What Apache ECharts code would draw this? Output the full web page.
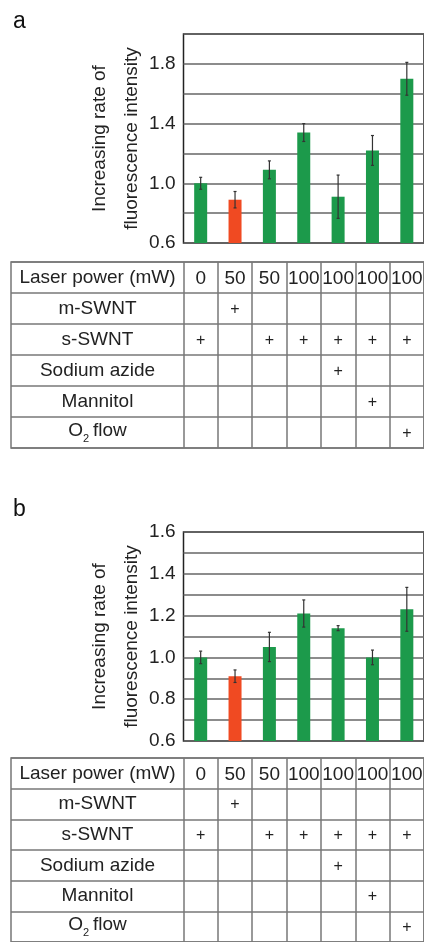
<!DOCTYPE html>
<html>
<head>
<meta charset="utf-8">
<title>Fluorescence intensity</title>
<script src="https://cdn.jsdelivr.net/npm/echarts@6/dist/echarts.min.js"></script>
<style>
  html, body { margin: 0; padding: 0; background: #fff; }
  #chart { width: 424px; height: 942px; }
</style>
</head>
<body>
<div id="chart"></div>
<script>
// laser power per column (same for both panels)
const laserPower = ['0', '50', '50', '100', '100', '100', '100']
// table rows
const rowLabels = ['Laser power (mW)', 'm-SWNT', 's-SWNT', 'Sodium azide', 'Mannitol', '{o|O}{sub|2}{o|flow}']
const mSWNT = [0, 1, 0, 0, 0, 0, 0]
const sSWNT = [1, 0, 1, 1, 1, 1, 1]
const sodiumAzide = [0, 0, 0, 0, 1, 0, 0]
const mannitol = [0, 0, 0, 0, 0, 1, 0]
const o2Flow = [0, 0, 0, 0, 0, 0, 1]

// panel a
const valuesA = [1.00, 0.89, 1.09, 1.34, 0.91, 1.22, 1.70]
const errorsA = [0.04, 0.055, 0.06, 0.06, 0.145, 0.10, 0.11]
const tickLabelsA = ['0.6', '1.0', '1.4', '1.8']
// panel b
const valuesB = [1.00, 0.91, 1.05, 1.21, 1.14, 1.00, 1.23]
const errorsB = [0.03, 0.03, 0.07, 0.065, 0.012, 0.035, 0.105]
const tickLabelsB = ['0.6', '0.8', '1.0', '1.2', '1.4', '1.6']

const GREEN = '#1c9a4b'
const RED = '#f04a22'
const FONT = 'Liberation Sans, Arial, sans-serif'
const TXT = '#222'

const chart = echarts.init(document.getElementById('chart'), null, { renderer: 'canvas' })

function barColor(i) {
  return i === 1 ? RED : GREEN
}

// [column, row, text] for every filled table cell
function tableCells() {
  const out = []
  laserPower.forEach((p, i) => out.push([i, 0, p]))
  const rows = [mSWNT, sSWNT, sodiumAzide, mannitol, o2Flow]
  rows.forEach((row, r) => {
    row.forEach((v, i) => {
      if (v) out.push([i, r + 1, '+'])
    })
  })
  return out
}

// builds grids/axes/series for one panel
function panel(idx, top, tableTop, min, max, interval, values, errors, tickLabels) {
  const g = idx * 3
  const cells = tableCells()
  const grids = [
    { left: 183.5, top: top, width: 247, height: 209, show: true, borderColor: '#222', borderWidth: 1.5 },
    { left: 183.5, top: tableTop, width: 247, height: 186 },
    { left: 11, top: tableTop, width: 419, height: 186, show: true, borderColor: '#777', borderWidth: 1.5 }
  ]
  const xAxes = [
    { gridIndex: g, type: 'category', data: laserPower, axisLine: { show: false }, axisTick: { show: false }, axisLabel: { show: false } },
    {
      gridIndex: g + 1, type: 'category', data: laserPower,
      axisLine: { show: false }, axisTick: { show: false }, axisLabel: { show: false },
      splitLine: { show: true, lineStyle: { color: '#777', width: 1.5 } }
    },
    { gridIndex: g + 2, type: 'value', show: false }
  ]
  const yAxes = [
    {
      gridIndex: g, type: 'value', min: min, max: max, interval: interval,
      name: 'Increasing rate of\nfluorescence intensity',
      nameLocation: 'middle', nameGap: 36, nameMoveOverlap: false,
      nameTextStyle: { fontFamily: FONT, fontSize: 19, color: TXT, lineHeight: 32 },
      axisLine: { show: false }, axisTick: { show: false },
      axisLabel: {
        fontFamily: FONT, fontSize: 19, color: TXT, margin: 8,
        formatter: v => {
          const s = v.toFixed(1)
          return tickLabels.indexOf(s) >= 0 ? s : ''
        }
      },
      splitLine: { show: true, lineStyle: { color: '#666', width: 1.5 } }
    },
    {
      gridIndex: g + 1, type: 'category', data: rowLabels, inverse: true,
      axisLine: { show: false }, axisTick: { show: false },
      axisLabel: {
        fontFamily: FONT, fontSize: 19, color: TXT, align: 'center', margin: 86,
        rich: {
          o: { fontFamily: FONT, fontSize: 19, color: TXT, verticalAlign: 'top' },
          sub: { fontFamily: FONT, fontSize: 11, color: TXT, verticalAlign: 'top', padding: [12, 4, 0, 0] }
        }
      }
    },
    {
      gridIndex: g + 2, type: 'category', data: rowLabels, inverse: true,
      axisLine: { show: false }, axisTick: { show: false }, axisLabel: { show: false },
      splitLine: { show: true, lineStyle: { color: '#777', width: 1.5 } }
    }
  ]
  const series = [
    {
      type: 'bar', xAxisIndex: g, yAxisIndex: g, barWidth: 13,
      data: values.map((v, i) => ({ value: v, itemStyle: { color: barColor(i) } }))
    },
    {
      // error bars
      type: 'custom', xAxisIndex: g, yAxisIndex: g,
      data: values.map((v, i) => [i, v, errors[i]]),
      renderItem: (params, api) => {
        const hi = api.coord([api.value(0), api.value(1) + api.value(2)])
        const lo = api.coord([api.value(0), api.value(1) - api.value(2)])
        const st = { stroke: '#333', lineWidth: 1.2 }
        return {
          type: 'group',
          children: [
            { type: 'line', shape: { x1: hi[0], y1: hi[1], x2: lo[0], y2: lo[1] }, style: st },
            { type: 'line', shape: { x1: hi[0] - 1.5, y1: hi[1], x2: hi[0] + 1.5, y2: hi[1] }, style: st },
            { type: 'line', shape: { x1: lo[0] - 1.5, y1: lo[1], x2: lo[0] + 1.5, y2: lo[1] }, style: st }
          ]
        }
      },
      z: 5
    },
    {
      // table cell contents
      type: 'custom', xAxisIndex: g + 1, yAxisIndex: g + 1,
      data: cells.map(c => [c[0], c[1]]),
      renderItem: (params, api) => {
        const p = api.coord([api.value(0), api.value(1)])
        const txt = cells[params.dataIndex][2]
        const plus = txt === '+'
        return {
          type: 'text', x: p[0], y: p[1] + 1,
          style: {
            text: txt, fill: TXT, fontFamily: FONT, fontSize: plus ? 16 : 19,
            align: 'center', verticalAlign: 'middle'
          }
        }
      }
    }
  ]
  return { grids, xAxes, yAxes, series }
}

const pa = panel(0, 34, 262, 0.6, 2.0, 0.2, valuesA, errorsA, tickLabelsA)
const pb = panel(1, 532, 758, 0.6, 1.6, 0.1, valuesB, errorsB, tickLabelsB)

chart.setOption({
  animation: false,
  grid: pa.grids.concat(pb.grids),
  xAxis: pa.xAxes.concat(pb.xAxes),
  yAxis: pa.yAxes.concat(pb.yAxes),
  series: pa.series.concat(pb.series),
  graphic: [
    { type: 'text', left: 13, top: 10, style: { text: 'a', fontFamily: FONT, fontSize: 23, fill: '#111' } },
    { type: 'text', left: 13, top: 498, style: { text: 'b', fontFamily: FONT, fontSize: 23, fill: '#111' } }
  ]
})
</script>
</body>
</html>
